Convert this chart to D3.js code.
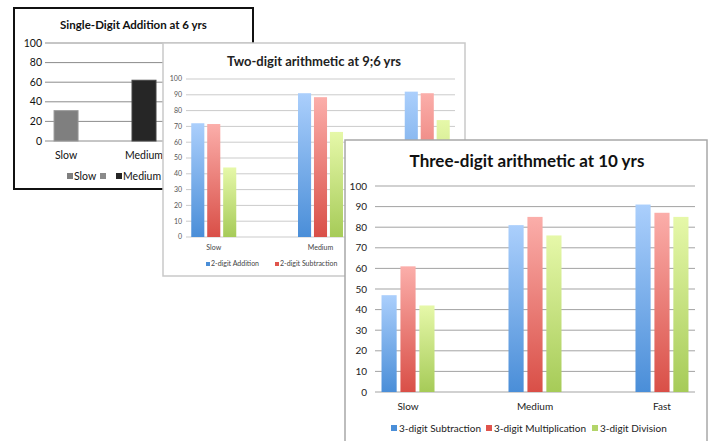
<!DOCTYPE html>
<html>
<head>
<meta charset="utf-8">
<script src="https://cdn.jsdelivr.net/npm/d3@7"></script>
<style>
  html, body { margin: 0; padding: 0; background: #fff; }
  svg { display: block; font-family: Lato, "Open Sans", sans-serif; }
</style>
</head>
<body>
<svg id="chart" width="712" height="441"></svg>
<script>
// Speed groups shared by the three charts
const speedGroups = ["Slow", "Medium", "Fast"];

// Single-digit addition at 6 years (Slow, Medium)
const singleDigitGroups = ["Slow", "Medium"];
const singleDigitValues = [31, 62];
const singleDigitTicks = [0, 20, 40, 60, 80, 100];
const singleDigitLegend = ["Slow", "", "Medium"];

// Two-digit arithmetic at 9;6 years
const twoDigitSeries = ["2-digit Addition", "2-digit Subtraction", "2-digit Multiplication"];
const twoDigitLegend = ["2-digit Addition", "2-digit Subtraction"];
const twoDigitAddition = [72, 91, 92];
const twoDigitSubtraction = [71.5, 88.5, 91];
const twoDigitMultiplication = [44, 66.5, 74];

// Three-digit arithmetic at 10 years
const threeDigitSeries = ["3-digit Subtraction", "3-digit Multiplication", "3-digit Division"];
const threeDigitSubtraction = [47, 81, 91];
const threeDigitMultiplication = [61, 85, 87];
const threeDigitDivision = [42, 76, 85];

const tenTicks = [0, 10, 20, 30, 40, 50, 60, 70, 80, 90, 100];

const svg = d3.select("#chart");
svg.append("rect").attr("width", 712).attr("height", 441).attr("fill", "#fff");

// Vertical gradients for the coloured bars
const defs = svg.append("defs");
const gradients = [
  { id: "g-blue", top: "#abcffc", bottom: "#4a8ed8" },
  { id: "g-red", top: "#fbaeaa", bottom: "#d94f47" },
  { id: "g-green", top: "#e6f8a9", bottom: "#a6cb58" }
];
gradients.forEach(g => {
  const lg = defs.append("linearGradient").attr("id", g.id)
    .attr("x1", 0).attr("y1", 0).attr("x2", 0).attr("y2", 1);
  lg.append("stop").attr("offset", "0%").attr("stop-color", g.top);
  lg.append("stop").attr("offset", "100%").attr("stop-color", g.bottom);
});
const seriesFill = ["url(#g-blue)", "url(#g-red)", "url(#g-green)"];
const legendColors = ["#4a8ed8", "#e0544c", "#b3d56a"];

function panelFrame(g, box, stroke, strokeWidth, clipId) {
  defs.append("clipPath").attr("id", clipId)
    .append("rect").attr("x", box.x).attr("y", box.y).attr("width", box.w).attr("height", box.h);
  g.append("rect").attr("x", box.x).attr("y", box.y).attr("width", box.w).attr("height", box.h)
    .attr("fill", "#fff");
  const inner = g.append("g").attr("clip-path", `url(#${clipId})`);
  g.append("rect").attr("x", box.x).attr("y", box.y).attr("width", box.w).attr("height", box.h)
    .attr("fill", "none").attr("stroke", stroke).attr("stroke-width", strokeWidth);
  return inner;
}

function gridAndTicks(g, y, ticks, x0, x1, labelX, fontSize, gridColor, textColor) {
  g.append("g").selectAll("line").data(ticks).join("line")
    .attr("x1", x0).attr("x2", x1)
    .attr("y1", d => y(d)).attr("y2", d => y(d))
    .attr("stroke", gridColor).attr("stroke-width", 1);
  g.append("g").selectAll("text").data(ticks).join("text")
    .attr("x", labelX).attr("y", d => y(d))
    .attr("dy", "0.35em").attr("text-anchor", "end")
    .attr("font-size", fontSize).attr("fill", textColor)
    .text(d => d);
}

// ---------- Single-digit addition ----------
{
  const box = { x: 14, y: 8, w: 239, h: 181 };
  const outer = svg.append("g");
  const g = panelFrame(outer, box, "#111", 2, "clip1");
  g.append("text").attr("x", box.x + box.w / 2).attr("y", 29)
    .attr("text-anchor", "middle").attr("font-weight", "bold").attr("font-size", 11.5)
    .attr("fill", "#111").text("Single-Digit Addition at 6 yrs");
  const y = d3.scaleLinear().domain([0, 100]).range([141, 43]);
  const x = d3.scalePoint().domain(speedGroups).range([45, 243]).padding(0.27);
  gridAndTicks(g, y, singleDigitTicks, 45, 253, 42, 10.5, "#8c8c8c", "#111");
  const barW = 24;
  g.append("g").selectAll("rect").data(singleDigitGroups).join("rect")
    .attr("x", d => x(d) - barW / 2)
    .attr("y", (d, i) => y(singleDigitValues[i]))
    .attr("width", barW)
    .attr("height", (d, i) => y(0) - y(singleDigitValues[i]))
    .attr("fill", (d, i) => i === 0 ? "#7f7f7f" : "#262626")
    .attr("stroke", (d, i) => i === 0 ? "#9a9a9a" : "#444").attr("stroke-width", 1);
  g.append("g").selectAll("text").data(singleDigitGroups).join("text")
    .attr("x", d => x(d)).attr("y", 159).attr("text-anchor", "middle")
    .attr("font-size", 10.5).attr("fill", "#111").text(d => d);
  // legend
  const legendX = [67, 100, 116];
  const legendFill = ["#7f7f7f", "#8a8a8a", "#262626"];
  const lg = g.append("g").selectAll("g").data(singleDigitLegend).join("g")
    .attr("transform", (d, i) => `translate(${legendX[i]},176)`);
  lg.append("rect").attr("x", 0).attr("y", -3).attr("width", 6).attr("height", 6)
    .attr("fill", (d, i) => legendFill[i]);
  lg.append("text").attr("x", 7).attr("dy", "0.35em").attr("font-size", 10.5)
    .attr("fill", "#111").text(d => d);
}

// ---------- Two-digit arithmetic ----------
{
  const box = { x: 163, y: 43, w: 302, h: 233 };
  const outer = svg.append("g");
  const g = panelFrame(outer, box, "#c9c9c9", 1.5, "clip2");
  g.append("text").attr("x", 314).attr("y", 66)
    .attr("text-anchor", "middle").attr("font-weight", "bold").attr("font-size", 13)
    .attr("fill", "#222").text("Two-digit arithmetic at 9;6 yrs");
  const y = d3.scaleLinear().domain([0, 100]).range([237, 79]);
  const x = d3.scalePoint().domain(speedGroups).range([186, 455]).padding(0.26);
  const inner = d3.scaleBand().domain(twoDigitSeries).range([-22.5, 22.5]).paddingInner(0.18);
  gridAndTicks(g, y, tenTicks, 186, 455, 182, 7, "#cbcbcb", "#555");
  const values = [twoDigitAddition, twoDigitSubtraction, twoDigitMultiplication];
  twoDigitSeries.forEach((s, si) => {
    g.append("g").selectAll("rect").data(speedGroups).join("rect")
      .attr("x", d => x(d) + inner(s))
      .attr("y", (d, i) => y(values[si][i]))
      .attr("width", inner.bandwidth())
      .attr("height", (d, i) => y(0) - y(values[si][i]))
      .attr("fill", seriesFill[si]);
  });
  g.append("g").selectAll("text").data(["Slow", "Medium"]).join("text")
    .attr("x", d => x(d)).attr("y", 250).attr("text-anchor", "middle")
    .attr("font-size", 7).attr("fill", "#444").text(d => d);
  const legendX = [206, 275];
  const lg = g.append("g").selectAll("g").data(twoDigitLegend).join("g")
    .attr("transform", (d, i) => `translate(${legendX[i]},264)`);
  lg.append("rect").attr("x", 0).attr("y", -2).attr("width", 4).attr("height", 4)
    .attr("fill", (d, i) => legendColors[i]);
  lg.append("text").attr("x", 5).attr("dy", "0.35em").attr("font-size", 7)
    .attr("fill", "#444").text(d => d);
}

// ---------- Three-digit arithmetic ----------
{
  const box = { x: 345, y: 140, w: 362, h: 320 };
  const outer = svg.append("g");
  const g = panelFrame(outer, box, "#a8a8a8", 1.5, "clip3");
  g.append("text").attr("x", 527).attr("y", 167)
    .attr("text-anchor", "middle").attr("font-weight", "bold").attr("font-size", 17)
    .attr("fill", "#111").text("Three-digit arithmetic at 10 yrs");
  const y = d3.scaleLinear().domain([0, 100]).range([392, 186]);
  const x = d3.scalePoint().domain(speedGroups).range([375, 695]).padding(0.26);
  const inner = d3.scaleBand().domain(threeDigitSeries).range([-26.5, 26.5]).paddingInner(0.2);
  gridAndTicks(g, y, tenTicks, 375, 695, 367, 10, "#a3a3a3", "#222");
  const values = [threeDigitSubtraction, threeDigitMultiplication, threeDigitDivision];
  threeDigitSeries.forEach((s, si) => {
    g.append("g").selectAll("rect").data(speedGroups).join("rect")
      .attr("x", d => x(d) + inner(s))
      .attr("y", (d, i) => y(values[si][i]))
      .attr("width", inner.bandwidth())
      .attr("height", (d, i) => y(0) - y(values[si][i]))
      .attr("fill", seriesFill[si]);
  });
  g.append("g").selectAll("text").data(speedGroups).join("text")
    .attr("x", d => x(d)).attr("y", 410).attr("text-anchor", "middle")
    .attr("font-size", 10).attr("fill", "#222").text(d => d);
  const legendX = [391, 486, 592];
  const lg = g.append("g").selectAll("g").data(threeDigitSeries).join("g")
    .attr("transform", (d, i) => `translate(${legendX[i]},428)`);
  lg.append("rect").attr("x", 0).attr("y", -3).attr("width", 6).attr("height", 6)
    .attr("fill", (d, i) => legendColors[i]);
  lg.append("text").attr("x", 8).attr("dy", "0.35em").attr("font-size", 10)
    .attr("fill", "#222").text(d => d);
}
</script>
</body>
</html>
